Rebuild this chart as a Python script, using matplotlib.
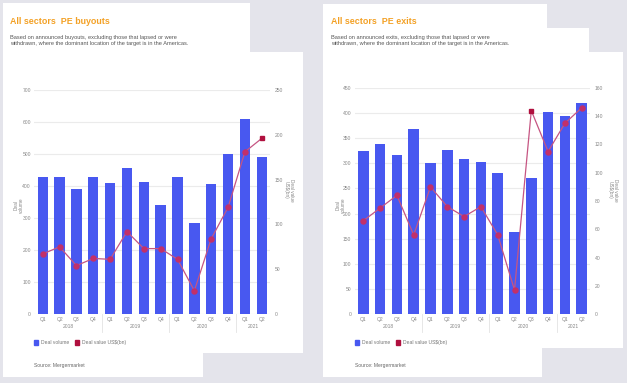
import matplotlib
matplotlib.use("Agg")
import matplotlib.pyplot as plt
import matplotlib.transforms as mtransforms
from matplotlib.patches import Rectangle
from matplotlib.lines import Line2D

# data
quarters = ['Q1', 'Q2', 'Q3', 'Q4', 'Q1', 'Q2', 'Q3', 'Q4',
            'Q1', 'Q2', 'Q3', 'Q4', 'Q1', 'Q2']
years = ['2018', '2019', '2020', '2021']
year_centres = [1.5, 5.5, 9.5, 12.5]
year_breaks = [3.5, 7.5, 11.5]

buyout_volume = [427, 429, 390, 429, 408, 457, 414, 341, 429, 283, 405, 499, 609, 491]
buyout_value = [67, 75, 54, 62, 61, 92, 73, 73, 61, 26, 84, 119, 181, 196]
exit_volume = [325, 339, 317, 368, 301, 327, 308, 303, 280, 163, 270, 403, 394, 420]
exit_value = [66, 75, 84, 56, 90, 76, 69, 76, 56, 17, 144, 115, 135, 146]

W, H = 627, 383
BG = '#e4e4eb'
BAR = '#4858f0'
LINE = '#c65582'
MARK = '#c2306a'
HILITE = '#b0103e'
TITLE = '#f3a126'
FONT = ['Liberation Sans', 'DejaVu Sans']

plt.rcParams['font.family'] = FONT

fig = plt.figure(figsize=(W / 100, H / 100), dpi=100)
fig.patch.set_facecolor(BG)


def fx(x):
    return x / W


def fy(y):
    return 1 - y / H


def card(x0, y0, x1, y1):
    fig.patches.append(Rectangle((fx(x0), fy(y1)), fx(x1 - x0), (y1 - y0) / H,
                                 transform=fig.transFigure, facecolor='white',
                                 edgecolor='none', zorder=-5))


def text(x, y, s, **kw):
    fig.text(fx(x), fy(y), s, **kw)


# white "pages"
card(3, 3, 250, 52)
card(3, 52, 303, 353)
card(3, 353, 203, 377)

card(323, 4, 547, 28)
card(323, 28, 589, 52)
card(323, 52, 623, 348)
card(323, 348, 542, 377)


def panel(x0, title, subtitle, box, volume, value, vmax, vstep, rmax, rstep,
          highlight, ylab_x, rlab_x):
    left, top, right, bottom = box
    text(x0, 21, title, color=TITLE, fontsize=6.4, fontweight='bold',
         va='center', ha='left')
    text(x0, 40.5, subtitle, color='#555555', fontsize=4.1, va='center',
         ha='left', linespacing=1.5)

    ax = fig.add_axes([fx(left), fy(bottom), fx(right - left), (bottom - top) / H])
    ax.set_facecolor('none')
    xs = list(range(len(volume)))
    ax.bar(xs, volume, width=0.62, color=BAR, zorder=2)
    ax.set_xlim(-0.5, len(volume) - 0.5)
    ax.set_ylim(0, vmax)
    ax.set_yticks(range(0, vmax + 1, vstep))
    ax.yaxis.grid(True, color='#ebebeb', linewidth=0.8, zorder=0)
    ax.set_axisbelow(True)
    for s in ax.spines.values():
        s.set_visible(False)
    ax.tick_params(axis='both', length=0, labelsize=3.6, colors='#888888')
    ax.tick_params(axis='y', pad=2.5)
    ax.tick_params(axis='x', pad=2.5)
    ax.set_xticks(xs)
    ax.set_xticklabels(quarters)

    ax2 = ax.twinx()
    ax2.set_ylim(0, rmax)
    ax2.set_yticks(range(0, rmax + 1, rstep))
    for s in ax2.spines.values():
        s.set_visible(False)
    ax2.tick_params(axis='y', length=0, labelsize=3.6, colors='#888888', pad=3.5)
    ax2.plot(xs, value, color=LINE, linewidth=0.9, zorder=3)
    normal = [i for i in xs if i != highlight]
    ax2.plot(normal, [value[i] for i in normal], linestyle='none', marker='o',
             markersize=3.6, color=MARK, zorder=4)
    ax2.plot([highlight], [value[highlight]], linestyle='none', marker='s',
             markersize=3.4, color=HILITE, zorder=4)

    trans = mtransforms.blended_transform_factory(ax.transData, ax.transAxes)
    depth = 18 / (bottom - top)
    for b in year_breaks:
        ax.add_line(Line2D([b, b], [0, -depth], transform=trans, color='#e3e3e3',
                           linewidth=0.6, clip_on=False))
    for yr, c in zip(years, year_centres):
        ax.text(c, -13 / (bottom - top), yr, transform=trans, ha='center',
                va='center', fontsize=3.6, color='#888888')

    # axis titles
    text(ylab_x, 205, 'Deal\nvolume', rotation=90, fontsize=3.4, color='#888888',
         ha='center', va='center', linespacing=1.1)
    text(rlab_x, 190, 'Deal value\nUS$(bn)', rotation=270, fontsize=3.4,
         color='#888888', ha='center', va='center', linespacing=1.1)

    # legend
    lx = left
    fig.patches.append(Rectangle((fx(lx), fy(345)), fx(4), 5 / H,
                                 transform=fig.transFigure, color=BAR))
    text(lx + 7, 342.5, 'Deal volume', fontsize=3.6, color='#777777', va='center')
    fig.patches.append(Rectangle((fx(lx + 41), fy(345)), fx(4), 5 / H,
                                 transform=fig.transFigure, color=HILITE))
    text(lx + 48, 342.5, 'Deal value US$(bn)', fontsize=3.6, color='#777777',
         va='center')
    text(lx, 366, 'Source: Mergermarket', fontsize=3.6, color='#666666', va='center')
    return ax


panel(10, 'All sectors  PE buyouts',
      'Based on announced buyouts, excluding those that lapsed or were\n'
      'withdrawn, where the dominant location of the target is in the Americas.',
      (34.3, 90, 270.2, 314), buyout_volume, buyout_value, 700, 100, 250, 50,
      13, 19, 289)

panel(331, 'All sectors  PE exits',
      'Based on announced exits, excluding those that lapsed or were\n'
      'withdrawn, where the dominant location of the target is in the Americas.',
      (354.9, 88, 590.1, 314), exit_volume, exit_value, 450, 50, 160, 20,
      10, 341, 613)

fig.savefig('out.png', dpi=100, facecolor=BG)
